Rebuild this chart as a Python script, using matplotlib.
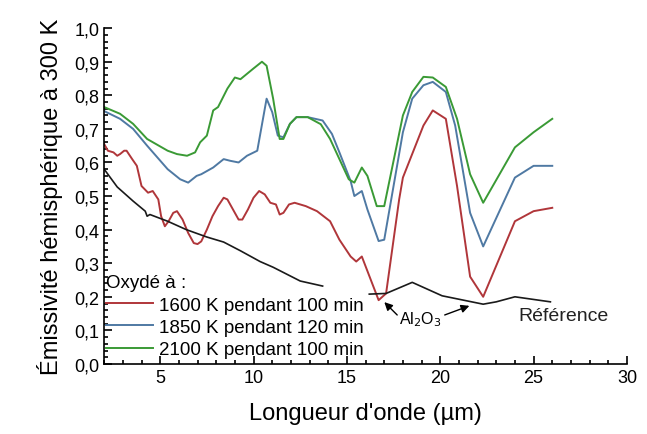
import matplotlib
matplotlib.use("Agg")
import matplotlib.pyplot as plt
from matplotlib.ticker import MultipleLocator, FuncFormatter
import numpy as np

plt.rcParams["font.family"] = ["Liberation Sans", "DejaVu Sans"]

# ── données ──
x_1600 = [2.0, 2.2, 2.5, 2.7, 2.85, 3.07, 3.2, 3.5, 3.75, 4.0, 4.35, 4.6, 4.9, 5.05, 5.25,
          5.45, 5.7, 5.9, 6.2, 6.5, 6.8, 7.0, 7.2, 7.5, 7.8, 8.1, 8.4, 8.6, 8.9, 9.2, 9.4,
          9.7, 10.0, 10.3, 10.6, 10.9, 11.2, 11.4, 11.6, 11.9, 12.2, 12.8, 13.4, 14.1,
          14.6, 15.2, 15.5, 15.8, 16.7, 17.1, 17.8, 18.0, 19.1, 19.6, 20.3, 20.9, 21.6,
          22.3, 24.0, 25.0, 26.0]
y_1600 = [0.655, 0.635, 0.63, 0.62, 0.625, 0.635, 0.635, 0.61, 0.59, 0.53, 0.51, 0.515,
          0.49, 0.44, 0.41, 0.425, 0.45, 0.455, 0.43, 0.39, 0.36, 0.357, 0.365, 0.40, 0.44,
          0.47, 0.495, 0.49, 0.46, 0.43, 0.43, 0.46, 0.495, 0.515, 0.505, 0.48, 0.475,
          0.445, 0.45, 0.475, 0.48, 0.47, 0.455, 0.425, 0.37, 0.32, 0.305, 0.32, 0.19,
          0.21, 0.49, 0.555, 0.71, 0.755, 0.73, 0.53, 0.26, 0.20, 0.425, 0.455, 0.465]

x_1850 = [2.0, 2.85, 3.55, 4.3, 5.4, 6.07, 6.5, 6.95, 7.2, 7.84, 8.4, 8.75, 9.2, 9.65,
          10.2, 10.7, 11.0, 11.3, 11.6, 11.95, 12.3, 12.9, 13.7, 14.2, 14.6, 15.2, 15.4,
          15.8, 16.1, 16.7, 17.0, 18.0, 18.5, 19.1, 19.6, 20.3, 20.8, 21.6, 22.3, 24.0,
          25.0, 26.0]
y_1850 = [0.753, 0.73, 0.70, 0.65, 0.58, 0.55, 0.54, 0.56, 0.565, 0.585, 0.61, 0.605,
          0.60, 0.62, 0.635, 0.79, 0.75, 0.68, 0.675, 0.715, 0.735, 0.735, 0.725, 0.685,
          0.63, 0.545, 0.50, 0.515, 0.46, 0.366, 0.37, 0.69, 0.79, 0.83, 0.84, 0.81, 0.71,
          0.45, 0.35, 0.555, 0.59, 0.59]

x_2100 = [2.0, 2.85, 3.55, 4.3, 5.4, 5.9, 6.44, 6.87, 7.14, 7.5, 7.84, 8.1, 8.6, 9.0,
          9.3, 10.0, 10.45, 10.7, 11.05, 11.4, 11.6, 11.95, 12.3, 12.9, 13.6, 14.1, 14.6,
          15.1, 15.4, 15.8, 16.1, 16.6, 17.0, 18.0, 18.5, 19.1, 19.6, 20.3, 20.9, 21.6,
          22.3, 24.0, 25.0, 26.0]
y_2100 = [0.765, 0.745, 0.715, 0.67, 0.635, 0.625, 0.62, 0.63, 0.66, 0.68, 0.755, 0.765,
          0.82, 0.853, 0.848, 0.88, 0.90, 0.888, 0.79, 0.67, 0.67, 0.715, 0.735, 0.735,
          0.714, 0.67, 0.61, 0.55, 0.54, 0.585, 0.56, 0.47, 0.47, 0.74, 0.81, 0.855, 0.853,
          0.825, 0.73, 0.565, 0.48, 0.645, 0.69, 0.73]

x_ref = [2.0, 2.7, 3.55, 4.2, 4.3, 4.45, 5.4, 6.4, 7.5, 8.4, 9.3, 10.35, 11.05, 12.5,
         13.7, np.nan, 16.2, 17.1, 18.5, 20.1, 22.3, 23.0, 24.0, 25.9]
y_ref = [0.58, 0.527, 0.485, 0.455, 0.44, 0.445, 0.425, 0.40, 0.378, 0.363, 0.337,
         0.305, 0.288, 0.247, 0.232, np.nan, 0.208, 0.21, 0.243, 0.203, 0.178, 0.185,
         0.20, 0.185]

labels = ["1600 K pendant 100 min", "1850 K pendant 120 min", "2100 K pendant 100 min"]
colors = ["#b0363a", "#4f79a3", "#3a9a35"]

fig = plt.figure(figsize=(6.47, 4.35), dpi=100)
ax = fig.add_axes([0.161, 0.161, 0.808, 0.772])

for xs, ys, lab, col in zip([x_1600, x_1850, x_2100], [y_1600, y_1850, y_2100], labels, colors):
    ax.plot(xs, ys, color=col, lw=1.4, label=lab)
ax.plot(x_ref, y_ref, color="#1a1a1a", lw=1.2)

ax.set_xlim(2, 30)
ax.set_ylim(0, 1.0)
ax.xaxis.set_major_locator(MultipleLocator(5))
ax.xaxis.set_minor_locator(MultipleLocator(1))
ax.yaxis.set_major_locator(MultipleLocator(0.1))
ax.yaxis.set_minor_locator(MultipleLocator(0.02))
ax.yaxis.set_major_formatter(FuncFormatter(lambda v, _: f"{v:.1f}".replace(".", ",")))
ax.tick_params(which="both", direction="in", labelsize=13, width=1.2)
ax.tick_params(which="major", length=6)
ax.tick_params(which="minor", length=3)
ax.spines["top"].set_visible(False)
ax.spines["right"].set_visible(False)
ax.spines["left"].set_linewidth(1.2)
ax.spines["bottom"].set_linewidth(1.2)

ax.set_xlabel("Longueur d'onde (µm)", fontsize=17, labelpad=12)
ax.set_ylabel("Émissivité hémisphérique à 300 K", fontsize=17, labelpad=8)

leg = ax.legend(loc="lower left", bbox_to_anchor=(-0.007, 0.0), frameon=False,
                fontsize=13.5, title="Oxydé à :", title_fontsize=13.5, alignment="left",
                handlelength=2.5, handletextpad=0.3, labelspacing=0.28, borderpad=0.1,
                borderaxespad=0.2)

# annotation Al2O3
ax.annotate("", xy=(16.9, 0.19), xytext=(17.8, 0.14),
            arrowprops=dict(arrowstyle="-|>", color="black", lw=1.0, mutation_scale=12))
ax.annotate("", xy=(21.7, 0.176), xytext=(20.1, 0.143),
            arrowprops=dict(arrowstyle="-|>", color="black", lw=1.0, mutation_scale=12))
ax.text(18.95, 0.135, "Al$_2$O$_3$", fontsize=11.5, ha="center", va="center")
ax.text(24.2, 0.145, "Référence", fontsize=14, ha="left", va="center", color="#222222")

fig.savefig("out.png", dpi=100)
